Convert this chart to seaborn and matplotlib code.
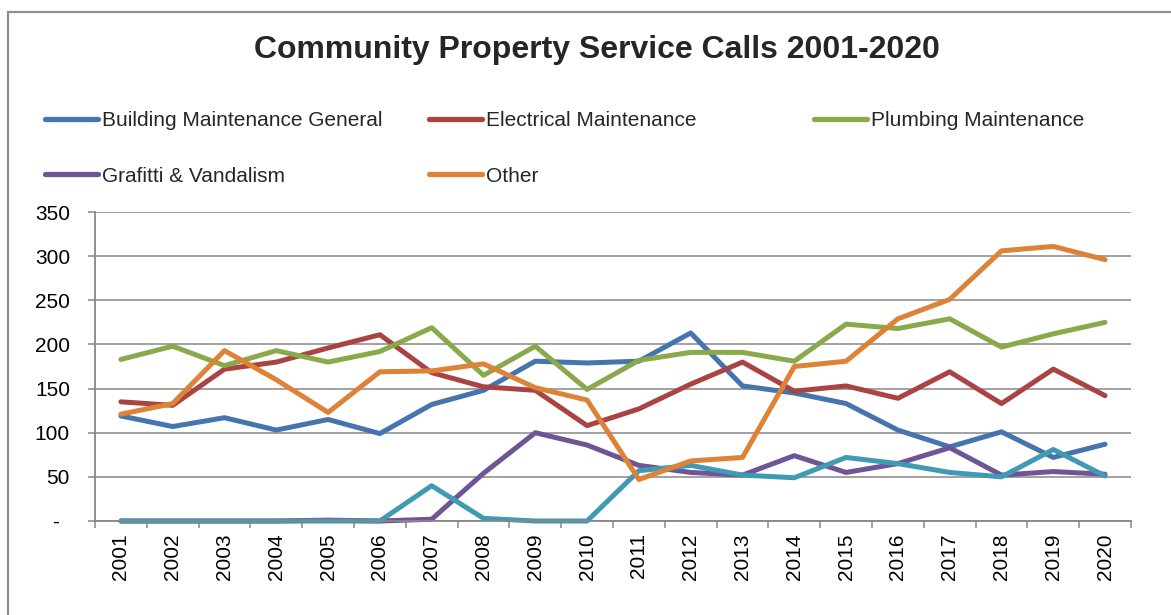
import numpy as np
import pandas as pd
import matplotlib
matplotlib.use("Agg")
import matplotlib.pyplot as plt
from matplotlib.lines import Line2D
from matplotlib.patches import Rectangle
from matplotlib.ticker import FuncFormatter
import seaborn as sns

# ---- data -------------------------------------------------------------
years = list(range(2001, 2021))
building_general = [119, 107, 117, 103, 115, 99, 132, 148, 181, 179,
                    181, 213, 153, 145, 133, 103, 84, 101, 72, 87]
electrical = [135, 131, 172, 180, 196, 211, 168, 152, 148, 108,
              127, 155, 180, 147, 153, 139, 169, 133, 172, 142]
plumbing = [183, 198, 176, 193, 180, 192, 219, 165, 198, 149,
            182, 191, 191, 181, 223, 218, 229, 197, 212, 225]
graffiti = [0, 0, 0, 0, 1, 0, 2, 54, 100, 86,
            63, 55, 52, 74, 55, 65, 83, 52, 56, 53]
unlabeled = [0, 0, 0, 0, 0, 0, 40, 3, 0, 0,
             57, 63, 52, 49, 72, 65, 55, 50, 81, 51]
other = [121, 133, 193, 160, 123, 169, 170, 178, 151, 137,
         47, 68, 72, 175, 181, 229, 251, 306, 311, 296]

series_names = ["Building Maintenance General", "Electrical Maintenance",
                "Plumbing Maintenance", "Grafitti & Vandalism", " ", "Other"]
series_values = [building_general, electrical, plumbing, graffiti, unlabeled, other]
legend_names = ["Building Maintenance General", "Electrical Maintenance",
                "Plumbing Maintenance", "Grafitti & Vandalism", "Other"]
colors = ["#4674AE", "#AA4443", "#89A94A", "#6F5595", "#3F9BB4", "#DD8236"]

title = "Community Property Service Calls 2001-2020"

df = pd.DataFrame({
    "year": np.tile(years, len(series_names)),
    "calls": np.concatenate(series_values),
    "series": np.repeat(series_names, len(years)),
})

# ---- style ------------------------------------------------------------
sns.set_style("white")
plt.rcParams["font.family"] = ["Liberation Sans", "DejaVu Sans"]
GRID = "#878787"
W, H = 1171, 615
LINE_W = 3.6

fig = plt.figure(figsize=(W / 100, H / 100), dpi=100)
ax = fig.add_axes([95 / W, 1 - 521 / H, (1131 - 95) / W, (521 - 212) / H])

sns.lineplot(data=df, x="year", y="calls", hue="series",
             hue_order=series_names, palette=dict(zip(series_names, colors)),
             linewidth=LINE_W, legend=False, ax=ax)
for line in ax.lines:
    line.set_linewidth(LINE_W)
    line.set_solid_capstyle("round")
    line.set_solid_joinstyle("round")
    line.set_clip_on(False)

# ---- axes -------------------------------------------------------------
ax.set_xlim(years[0] - 0.5, years[-1] + 0.5)
ax.set_ylim(0, 350)
ax.set_yticks(np.arange(0, 351, 50))
ax.yaxis.set_major_formatter(
    FuncFormatter(lambda v, p: "-\u2002" if v == 0 else f"{v:.0f}"))
ax.set_xticks(years)
ax.set_xticklabels([str(y) for y in years], rotation=90)
ax.set_xticks(np.arange(years[0] - 0.5, years[-1] + 1, 1), minor=True)
ax.set_xlabel("")
ax.set_ylabel("")

ax.grid(axis="y", color=GRID, linewidth=1.1)
ax.grid(axis="x", visible=False)
ax.set_axisbelow(True)
for side in ("top", "right"):
    ax.spines[side].set_visible(False)
for side in ("left", "bottom"):
    ax.spines[side].set_color(GRID)
    ax.spines[side].set_linewidth(1.3)

ax.tick_params(axis="y", which="major", direction="out", length=5, width=1.1,
               color=GRID, pad=13, labelsize=15, labelcolor="black", left=True)
ax.tick_params(axis="x", which="major", length=0, pad=9, labelsize=15,
               labelcolor="black", bottom=True)
ax.tick_params(axis="x", which="minor", direction="out", length=5, width=1.1,
               color=GRID, bottom=True)

# ---- title ------------------------------------------------------------
fig.text(597 / W, 1 - 50 / H, title, ha="center", va="center",
         fontsize=23, fontweight="bold")

# ---- legend entries placed on a grid ----------------------------------
legend_pos = [(45, 121), (429, 121), (814, 121), (45, 176), (429, 176)]
for name, (px, py) in zip(legend_names, legend_pos):
    col = colors[series_names.index(name)]
    handle = Line2D([], [], color=col, linewidth=3.8, solid_capstyle="round")
    fig.legend(handles=[handle], labels=[name], loc="center left",
               bbox_to_anchor=(px / W, 1 - py / H), frameon=False,
               fontsize=15, handlelength=2.55, handletextpad=0.2,
               borderpad=0, borderaxespad=0)

# ---- outer chart border -----------------------------------------------
fig.add_artist(Rectangle((8 / W, -0.02), 1.1, 1 - 12 / H + 0.02,
                         transform=fig.transFigure, fill=False,
                         edgecolor="#8E8E8E", linewidth=1.6))

fig.savefig("out.png", dpi=100)
